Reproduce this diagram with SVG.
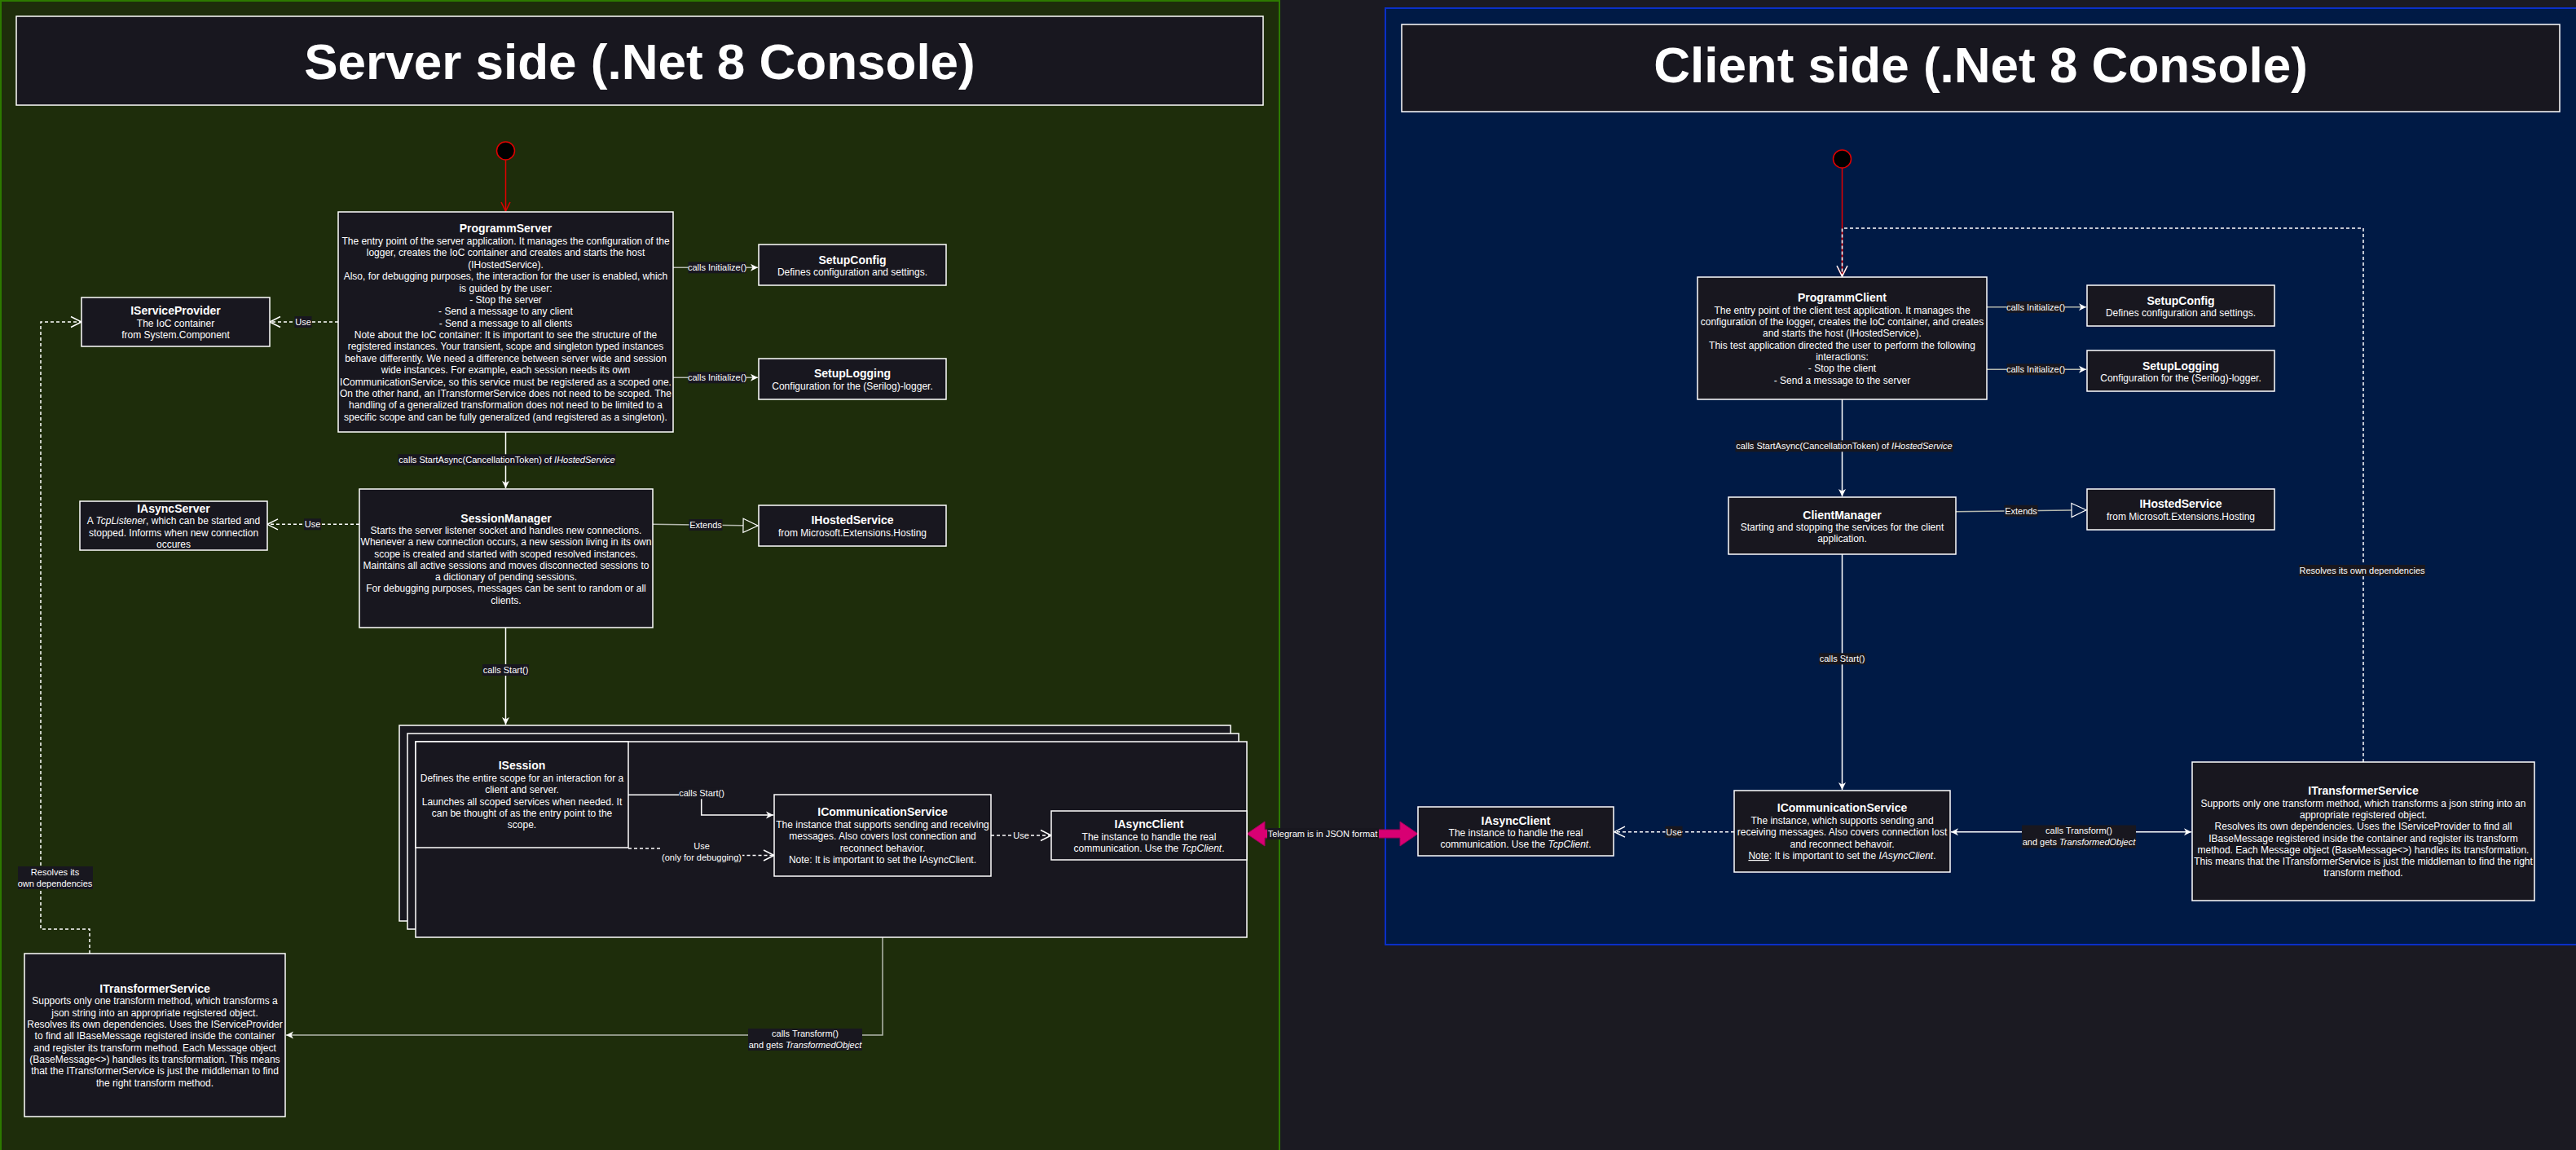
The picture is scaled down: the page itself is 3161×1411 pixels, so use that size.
<svg xmlns="http://www.w3.org/2000/svg" width="3161" height="1411" viewBox="0 0 3161 1411">
<style>
.t{font-family:"Liberation Sans",Arial,Helvetica,sans-serif;fill:#ffffff;text-anchor:middle}
.ti{font-size:14px;font-weight:bold}
.bd{font-size:12px}
.lb{font-size:11px}
.hd{font-size:62px;font-weight:bold}
.nd{fill:#18171f;stroke:#ffffff;stroke-width:1.5}
.lbg{fill:#18171f}
.e{fill:none;stroke:#ffffff;stroke-width:1.5}
.eg{fill:none;stroke:#b4b8ae;stroke-width:1.5}
.d{stroke-dasharray:4 3}
.red{fill:none;stroke:#e00000;stroke-width:1.5}
</style>
<defs>
<marker id="arr" markerUnits="userSpaceOnUse" viewBox="-12 -7 14 14" markerWidth="14" markerHeight="14" refX="0" refY="0" orient="auto-start-reverse"><path d="M-9,-4.5 L0,0 L-9,4.5 L-6.5,0 Z" fill="#ffffff"/></marker>
<marker id="open" markerUnits="userSpaceOnUse" viewBox="-15 -8 17 16" markerWidth="17" markerHeight="16" refX="0" refY="0" orient="auto"><path d="M-13,-6.5 L0,0 L-13,6.5" fill="none" stroke="#ffffff" stroke-width="1.5"/></marker>
<marker id="openr" markerUnits="userSpaceOnUse" viewBox="-15 -8 17 16" markerWidth="17" markerHeight="16" refX="0" refY="0" orient="auto"><path d="M-11,-5.5 L0,0 L-11,5.5" fill="none" stroke="#e00000" stroke-width="1.5"/></marker>
<marker id="trig" markerUnits="userSpaceOnUse" viewBox="-20 -10 22 20" markerWidth="22" markerHeight="20" refX="0" refY="0" orient="auto"><path d="M-18,-8.5 L0,0 L-18,8.5 Z" fill="#1e2d0b" stroke="#ffffff" stroke-width="1.2"/></marker>
<marker id="trib" markerUnits="userSpaceOnUse" viewBox="-20 -10 22 20" markerWidth="22" markerHeight="20" refX="0" refY="0" orient="auto"><path d="M-18,-8.5 L0,0 L-18,8.5 Z" fill="#001a45" stroke="#ffffff" stroke-width="1.2"/></marker>
</defs>
<rect x="0" y="0" width="3161" height="1411" fill="#1b1a22"/>
<g id="panel-server">
<rect x="1" y="1" width="1569" height="1430" fill="#1e2d0b" stroke="#2d7a00" stroke-width="2"/>
<rect x="20" y="20" width="1530" height="109" class="nd"/>
<text class="t hd" x="785" y="97">Server side (.Net 8 Console)</text>
</g>
<g id="panel-client">
<rect x="1700" y="10" width="1480" height="1149" fill="#001a45" stroke="#0a2fc8" stroke-width="2"/>
<rect x="1720" y="30" width="1421" height="107" class="nd"/>
<text class="t hd" x="2430.5" y="101">Client side (.Net 8 Console)</text>
</g>
<g id="connectors">
<circle cx="620.5" cy="185" r="11" fill="#000000" stroke="#e00000" stroke-width="1.5"/>
<path class="red" d="M620.5,196 V259" marker-end="url(#openr)"/>
<path class="e d" d="M415,395 H331" marker-end="url(#open)"/>
<path class="eg" d="M826,328.3 H930" marker-end="url(#arr)"/>
<path class="eg" d="M826,463.3 H930" marker-end="url(#arr)"/>
<path class="e" d="M620.5,530 V599" marker-end="url(#arr)"/>
<path class="e d" d="M441,643.3 H328" marker-end="url(#open)"/>
<path class="eg" d="M801,643.3 L930,645" marker-end="url(#trig)"/>
<path class="e" d="M620.5,770 V889" marker-end="url(#arr)"/>
<path class="e d" d="M110,1170 V1140 H50 V395 H100" marker-end="url(#open)"/>
<path class="eg" d="M1083,1150 V1270 H351" marker-end="url(#arr)"/>
<circle cx="2260.5" cy="195" r="11" fill="#000000" stroke="#e00000" stroke-width="1.5"/>
<path class="red" d="M2260.5,206 V339" marker-end="url(#openr)"/>
<path class="e d" d="M2900,935 V280 H2260.5 V339" marker-end="url(#open)"/>
<path class="eg" d="M2438,376.7 H2560" marker-end="url(#arr)"/>
<path class="eg" d="M2438,453.3 H2560" marker-end="url(#arr)"/>
<path class="e" d="M2260.5,490 V609" marker-end="url(#arr)"/>
<path class="eg" d="M2400,627.7 L2560,625.7" marker-end="url(#trib)"/>
<path class="e" d="M2260.5,680 V969" marker-end="url(#arr)"/>
<path class="e d" d="M2128,1020.7 H1981" marker-end="url(#open)"/>
<path class="e" d="M2394,1020.7 H2689" marker-start="url(#arr)" marker-end="url(#arr)"/>
<polygon points="1530,1023 1552,1008 1552,1018 1718,1018 1718,1008 1740,1023 1718,1038 1718,1028 1552,1028 1552,1038" fill="#d80073" stroke="#a3005a" stroke-width="1"/>
</g>
<g id="node-ProgrammServer">
<rect x="415" y="260" width="411" height="270" class="nd"/>
<text class="t ti" x="620.5" y="285">ProgrammServer</text>
<text class="t bd" x="620.5" y="300"><tspan x="620.5" dy="0">The entry point of the server application. It manages the configuration of the</tspan><tspan x="620.5" dy="14.38">logger, creates the IoC container and creates and starts the host</tspan><tspan x="620.5" dy="14.38">(IHostedService).</tspan><tspan x="620.5" dy="14.38">Also, for debugging purposes, the interaction for the user is enabled, which</tspan><tspan x="620.5" dy="14.38">is guided by the user:</tspan><tspan x="620.5" dy="14.38">- Stop the server</tspan><tspan x="620.5" dy="14.38">- Send a message to any client</tspan><tspan x="620.5" dy="14.38">- Send a message to all clients</tspan><tspan x="620.5" dy="14.38">Note about the IoC container: It is important to see the structure of the</tspan><tspan x="620.5" dy="14.38">registered instances. Your transient, scope and singleton typed instances</tspan><tspan x="620.5" dy="14.38">behave differently. We need a difference between server wide and session</tspan><tspan x="620.5" dy="14.38">wide instances. For example, each session needs its own</tspan><tspan x="620.5" dy="14.38">ICommunicationService, so this service must be registered as a scoped one.</tspan><tspan x="620.5" dy="14.38">On the other hand, an ITransformerService does not need to be scoped. The</tspan><tspan x="620.5" dy="14.38">handling of a generalized transformation does not need to be limited to a</tspan><tspan x="620.5" dy="14.38">specific scope and can be fully generalized (and registered as a singleton).</tspan></text>
</g>
<g id="node-IServiceProvider">
<rect x="100" y="365" width="231" height="60" class="nd"/>
<text class="t ti" x="215.5" y="386.3">IServiceProvider</text>
<text class="t bd" x="215.5" y="400.7"><tspan x="215.5" dy="0">The IoC container</tspan><tspan x="215.5" dy="14">from System.Component</tspan></text>
</g>
<g id="node-SetupConfig-server">
<rect x="931" y="300" width="230" height="50" class="nd"/>
<text class="t ti" x="1046" y="324">SetupConfig</text>
<text class="t bd" x="1046" y="338.3">Defines configuration and settings.</text>
</g>
<g id="node-SetupLogging-server">
<rect x="931" y="440" width="230" height="50" class="nd"/>
<text class="t ti" x="1046" y="463.3">SetupLogging</text>
<text class="t bd" x="1046" y="478">Configuration for the (Serilog)-logger.</text>
</g>
<g id="node-SessionManager">
<rect x="441" y="600" width="360" height="170" class="nd"/>
<text class="t ti" x="621" y="640.7">SessionManager</text>
<text class="t bd" x="621" y="655"><tspan x="621" dy="0">Starts the server listener socket and handles new connections.</tspan><tspan x="621" dy="14.28">Whenever a new connection occurs, a new session living in its own</tspan><tspan x="621" dy="14.28">scope is created and started with scoped resolved instances.</tspan><tspan x="621" dy="14.28">Maintains all active sessions and moves disconnected sessions to</tspan><tspan x="621" dy="14.28">a dictionary of pending sessions.</tspan><tspan x="621" dy="14.28">For debugging purposes, messages can be sent to random or all</tspan><tspan x="621" dy="14.28">clients.</tspan></text>
</g>
<g id="node-IAsyncServer">
<rect x="98" y="615" width="230" height="60" class="nd"/>
<text class="t ti" x="213" y="629.3">IAsyncServer</text>
<text class="t bd" x="213" y="643"><tspan x="213" dy="0">A <tspan font-style="italic">TcpListener</tspan>, which can be started and</tspan><tspan x="213" dy="14.5">stopped. Informs when new connection</tspan><tspan x="213" dy="14.5">occures</tspan></text>
</g>
<g id="node-IHostedService-server">
<rect x="931" y="620" width="230" height="50" class="nd"/>
<text class="t ti" x="1046" y="643.3">IHostedService</text>
<text class="t bd" x="1046" y="657.7">from Microsoft.Extensions.Hosting</text>
</g>
<g id="node-ISession">
<rect x="490" y="890" width="1020" height="240" class="nd"/>
<rect x="500" y="900" width="1020" height="240" class="nd"/>
<rect x="510" y="910" width="1020" height="240" class="nd"/>
<rect x="510" y="910" width="261" height="130" class="nd"/>
<text class="t ti" x="640.5" y="944">ISession</text>
<text class="t bd" x="640.5" y="959"><tspan x="640.5" dy="0">Defines the entire scope for an interaction for a</tspan><tspan x="640.5" dy="14.25">client and server.</tspan><tspan x="640.5" dy="14.25">Launches all scoped services when needed. It</tspan><tspan x="640.5" dy="14.25">can be thought of as the entry point to the</tspan><tspan x="640.5" dy="14.25">scope.</tspan></text>
</g>
<g id="session-connectors">
<path class="e" d="M771,975.3 H860.7 V1000 H949" marker-end="url(#arr)"/>
<path class="e d" d="M771,1041 H861 V1049.5 H950" marker-end="url(#open)"/>
<path class="e d" d="M1216,1025 H1290" marker-end="url(#open)"/>
</g>
<g id="node-ICommunicationService-server">
<rect x="950" y="975" width="266" height="100" class="nd"/>
<text class="t ti" x="1083" y="1001">ICommunicationService</text>
<text class="t bd" x="1083" y="1015.7"><tspan x="1083" dy="0">The instance that supports sending and receiving</tspan><tspan x="1083" dy="14.4">messages. Also covers lost connection and</tspan><tspan x="1083" dy="14.4">reconnect behavior.</tspan><tspan x="1083" dy="14.4">Note: It is important to set the IAsyncClient.</tspan></text>
</g>
<g id="node-IAsyncClient-server">
<rect x="1290" y="995" width="240" height="60" class="nd"/>
<text class="t ti" x="1410" y="1016">IAsyncClient</text>
<text class="t bd" x="1410" y="1030.7"><tspan x="1410" dy="0">The instance to handle the real</tspan><tspan x="1410" dy="14">communication. Use the <tspan font-style="italic">TcpClient</tspan>.</tspan></text>
</g>
<g id="node-ITransformerService-server">
<rect x="30" y="1170" width="320" height="200" class="nd"/>
<text class="t ti" x="190" y="1218.3">ITransformerService</text>
<text class="t bd" x="190" y="1232.3"><tspan x="190" dy="0">Supports only one transform method, which transforms a</tspan><tspan x="190" dy="14.34">json string into an appropriate registered object.</tspan><tspan x="190" dy="14.34">Resolves its own dependencies. Uses the IServiceProvider</tspan><tspan x="190" dy="14.34">to find all IBaseMessage registered inside the container</tspan><tspan x="190" dy="14.34">and register its transform method. Each Message object</tspan><tspan x="190" dy="14.34">(BaseMessage&lt;&gt;) handles its transformation. This means</tspan><tspan x="190" dy="14.34">that the ITransformerService is just the middleman to find</tspan><tspan x="190" dy="14.34">the right transform method.</tspan></text>
</g>
<g id="node-ProgrammClient">
<rect x="2083" y="340" width="355" height="150" class="nd"/>
<text class="t ti" x="2260.5" y="370">ProgrammClient</text>
<text class="t bd" x="2260.5" y="384.7"><tspan x="2260.5" dy="0">The entry point of the client test application. It manages the</tspan><tspan x="2260.5" dy="14.33">configuration of the logger, creates the IoC container, and creates</tspan><tspan x="2260.5" dy="14.33">and starts the host (IHostedService).</tspan><tspan x="2260.5" dy="14.33">This test application directed the user to perform the following</tspan><tspan x="2260.5" dy="14.33">interactions:</tspan><tspan x="2260.5" dy="14.33">- Stop the client</tspan><tspan x="2260.5" dy="14.33">- Send a message to the server</tspan></text>
</g>
<g id="node-SetupConfig-client">
<rect x="2561" y="350" width="230" height="50" class="nd"/>
<text class="t ti" x="2676" y="373.7">SetupConfig</text>
<text class="t bd" x="2676" y="387.7">Defines configuration and settings.</text>
</g>
<g id="node-SetupLogging-client">
<rect x="2561" y="430" width="230" height="50" class="nd"/>
<text class="t ti" x="2676" y="453.7">SetupLogging</text>
<text class="t bd" x="2676" y="467.7">Configuration for the (Serilog)-logger.</text>
</g>
<g id="node-ClientManager">
<rect x="2121" y="610" width="279" height="70" class="nd"/>
<text class="t ti" x="2260.5" y="636.7">ClientManager</text>
<text class="t bd" x="2260.5" y="651"><tspan x="2260.5" dy="0">Starting and stopping the services for the client</tspan><tspan x="2260.5" dy="14">application.</tspan></text>
</g>
<g id="node-IHostedService-client">
<rect x="2561" y="600" width="230" height="50" class="nd"/>
<text class="t ti" x="2676" y="623.3">IHostedService</text>
<text class="t bd" x="2676" y="638">from Microsoft.Extensions.Hosting</text>
</g>
<g id="node-ICommunicationService-client">
<rect x="2128" y="970" width="265" height="100" class="nd"/>
<text class="t ti" x="2260.5" y="995.7">ICommunicationService</text>
<text class="t bd" x="2260.5" y="1011"><tspan x="2260.5" dy="0">The instance, which supports sending and</tspan><tspan x="2260.5" dy="14.33">receiving messages. Also covers connection lost</tspan><tspan x="2260.5" dy="14.33">and reconnect behavoir.</tspan><tspan x="2260.5" dy="14.33"><tspan text-decoration="underline">Note</tspan>: It is important to set the <tspan font-style="italic">IAsyncClient</tspan>.</tspan></text>
</g>
<g id="node-IAsyncClient-client">
<rect x="1740" y="990" width="240" height="60" class="nd"/>
<text class="t ti" x="1860" y="1011.7">IAsyncClient</text>
<text class="t bd" x="1860" y="1026"><tspan x="1860" dy="0">The instance to handle the real</tspan><tspan x="1860" dy="14">communication. Use the <tspan font-style="italic">TcpClient</tspan>.</tspan></text>
</g>
<g id="node-ITransformerService-client">
<rect x="2690" y="935" width="420" height="170" class="nd"/>
<text class="t ti" x="2900" y="975.4">ITransformerService</text>
<text class="t bd" x="2900" y="989.7"><tspan x="2900" dy="0">Supports only one transform method, which transforms a json string into an</tspan><tspan x="2900" dy="14.27">appropriate registered object.</tspan><tspan x="2900" dy="14.27">Resolves its own dependencies. Uses the IServiceProvider to find all</tspan><tspan x="2900" dy="14.27">IBaseMessage registered inside the container and register its transform</tspan><tspan x="2900" dy="14.27">method. Each Message object (BaseMessage&lt;&gt;) handles its transformation.</tspan><tspan x="2900" dy="14.27">This means that the ITransformerService is just the middleman to find the right</tspan><tspan x="2900" dy="14.27">transform method.</tspan></text>
</g>
<g id="edge-labels">
<rect class="lbg" x="361.5" y="388" width="21" height="14"/><text class="t lb" x="372" y="399">Use</text>
<rect class="lbg" x="844.5" y="321.3" width="71" height="14"/><text class="t lb" x="880" y="332.3">calls Initialize()</text>
<rect class="lbg" x="844.5" y="456.3" width="71" height="14"/><text class="t lb" x="880" y="467.3">calls Initialize()</text>
<rect class="lbg" x="488.5" y="557.3" width="267" height="14"/><text class="t lb" x="622" y="568.3">calls StartAsync(CancellationToken) of <tspan font-style="italic">IHostedService</tspan></text>
<rect class="lbg" x="373" y="636.3" width="21" height="14"/><text class="t lb" x="383.5" y="647.3">Use</text>
<rect class="lbg" x="845.5" y="637" width="41" height="14"/><text class="t lb" x="866" y="648">Extends</text>
<rect class="lbg" x="592" y="815" width="57" height="14"/><text class="t lb" x="620.5" y="826">calls Start()</text>
<rect class="lbg" x="833" y="966.3" width="56" height="14"/><text class="t lb" x="861" y="977.3">calls Start()</text>
<rect class="lbg" x="811" y="1031" width="100" height="28"/><text class="t lb" x="861" y="1041.7"><tspan x="861" dy="0">Use</tspan><tspan x="861" dy="14.6">(only for debugging)</tspan></text>
<rect class="lbg" x="1242.5" y="1018" width="21" height="14"/><text class="t lb" x="1253" y="1029">Use</text>
<rect class="lbg" x="918" y="1262" width="140" height="27"/><text class="t lb" x="988" y="1272.3"><tspan x="988" dy="0">calls Transform()</tspan><tspan x="988" dy="14">and gets <tspan font-style="italic">TransformedObject</tspan></tspan></text>
<rect class="lbg" x="22" y="1063" width="92" height="28"/><text class="t lb" x="67.5" y="1074"><tspan x="67.5" dy="0">Resolves its</tspan><tspan x="67.5" dy="14">own dependencies</tspan></text>
<rect class="lbg" x="1555" y="1016" width="137" height="14"/><text class="t lb" x="1623" y="1027">Telegram is in JSON format</text>
<rect class="lbg" x="2462.5" y="369.7" width="71" height="14"/><text class="t lb" x="2498" y="380.7">calls Initialize()</text>
<rect class="lbg" x="2462.5" y="446.3" width="71" height="14"/><text class="t lb" x="2498" y="457.3">calls Initialize()</text>
<rect class="lbg" x="2129.5" y="540.3" width="267" height="14"/><text class="t lb" x="2263" y="551.3">calls StartAsync(CancellationToken) of <tspan font-style="italic">IHostedService</tspan></text>
<rect class="lbg" x="2459.5" y="619.7" width="41" height="14"/><text class="t lb" x="2480" y="630.7">Extends</text>
<rect class="lbg" x="2232" y="801.3" width="57" height="14"/><text class="t lb" x="2260.5" y="812.3">calls Start()</text>
<rect class="lbg" x="2043.5" y="1013.7" width="21" height="14"/><text class="t lb" x="2054" y="1024.7">Use</text>
<rect class="lbg" x="2481" y="1012.5" width="140" height="28"/><text class="t lb" x="2551" y="1023"><tspan x="2551" dy="0">calls Transform()</tspan><tspan x="2551" dy="14.3">and gets <tspan font-style="italic">TransformedObject</tspan></tspan></text>
<rect class="lbg" x="2821" y="693" width="155" height="14"/><text class="t lb" x="2898.5" y="704">Resolves its own dependencies</text>
</g>
</svg>
